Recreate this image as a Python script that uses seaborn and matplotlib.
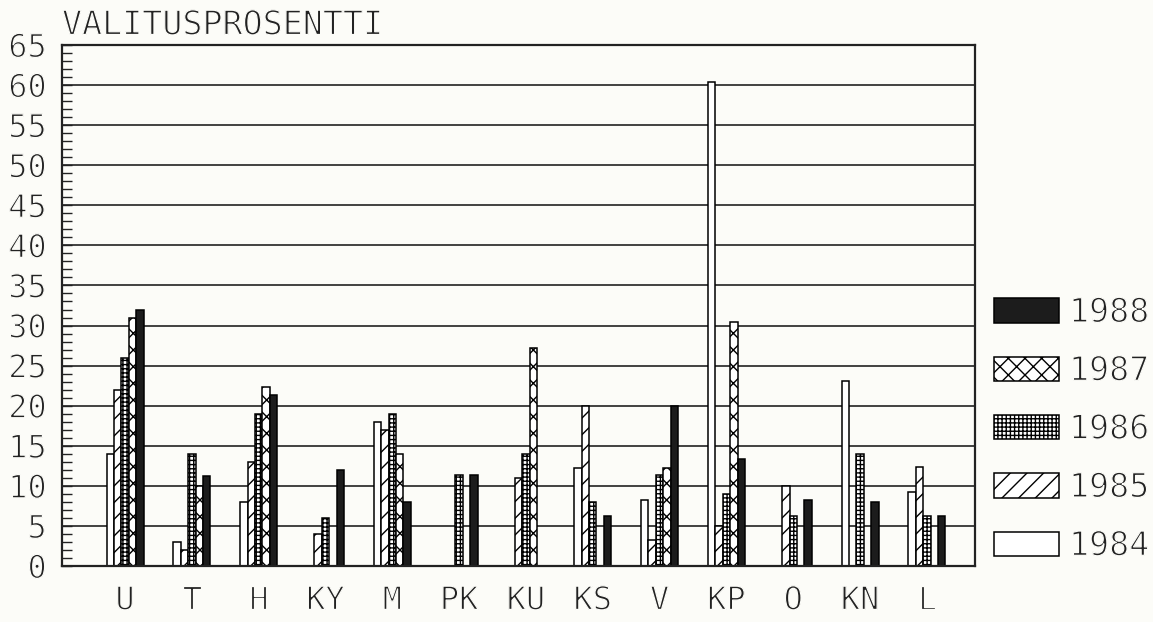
import numpy as np
import pandas as pd
import seaborn as sns
import matplotlib
matplotlib.use("Agg")
import matplotlib.pyplot as plt
import matplotlib.patheffects as pe
from matplotlib.patches import Patch
from matplotlib.ticker import MultipleLocator

nan = np.nan

# Complaint percentage by district and year
districts = ["U", "T", "H", "KY", "M", "PK", "KU", "KS", "V", "KP", "O", "KN", "L"]
years = ["1984", "1985", "1986", "1987", "1988"]
v1984 = [14.0, 3.0, 8.0, nan, 18.0, nan, nan, 12.2, 8.2, 60.4, nan, 23.1, 9.2]
v1985 = [22.0, 2.0, 13.0, 4.0, 17.0, nan, 11.0, 20.0, 3.2, 5.0, 10.0, nan, 12.3]
v1986 = [26.0, 14.0, 19.0, 6.0, 19.0, 11.3, 14.0, 8.0, 11.3, 9.0, 6.2, 14.0, 6.2]
v1987 = [31.0, 10.0, 22.3, nan, 14.0, nan, 27.2, nan, 12.2, 30.5, nan, nan, nan]
v1988 = [32.0, 11.2, 21.3, 12.0, 8.0, 11.3, nan, 6.3, 20.0, 13.3, 8.2, 8.0, 6.2]

series = dict(zip(years, [v1984, v1985, v1986, v1987, v1988]))
df = pd.DataFrame(
    [(d, y, v) for y, vals in series.items() for d, v in zip(districts, vals)],
    columns=["district", "year", "value"],
).dropna()

sns.set_style("white")
plt.rcParams["font.family"] = ["DejaVu Sans Mono", "DejaVu Sans"]
plt.rcParams["hatch.linewidth"] = 1.0
ink = "#222222"
paper = "#fcfcf8"
# thin plotter-pen look for the lettering: erode glyph outlines with paper colour
thin = [pe.Normal(), pe.Stroke(linewidth=0.9, foreground=paper)]

faces = {"1984": "white", "1985": "white", "1986": "white", "1987": "white", "1988": "#1c1c1c"}
hatches = {"1984": "", "1985": "//", "1986": "++++", "1987": "xx", "1988": ""}

fig = plt.figure(figsize=(11.53, 6.22), dpi=100, facecolor=paper)
ax = fig.add_axes([62 / 1153, 56 / 622, (975 - 62) / 1153, (566 - 45) / 622])
ax.set_facecolor(paper)

sns.barplot(
    data=df, x="district", y="value", hue="year",
    order=districts, hue_order=years, palette=faces,
    width=0.554, gap=0, saturation=1, errorbar=None,
    edgecolor="black", linewidth=1.1, legend=False, ax=ax,
)

for container, year in zip(ax.containers, years):
    for bar in container:
        bar.set_hatch(hatches[year])
        bar.set_edgecolor("black")

ax.set_xlim(-0.943, 12.72)
ax.set_ylim(0, 65)
ax.set_yticks(range(0, 66, 5))
ax.yaxis.set_minor_locator(MultipleLocator(1))
ax.tick_params(axis="y", which="both", direction="in", length=7, width=1.0,
               color=ink, labelsize=23, labelcolor=ink, pad=11, left=True)
ax.tick_params(axis="x", length=0, pad=14, labelsize=23, labelcolor=ink)
ax.set_xlabel("")
ax.set_ylabel("")

ax.grid(axis="y", color=ink, linewidth=1.2)
ax.grid(axis="x", visible=False)
ax.set_axisbelow(True)
for sp in ax.spines.values():
    sp.set_visible(True)
    sp.set_color(ink)
    sp.set_linewidth(1.6)

for lab in ax.get_xticklabels() + ax.get_yticklabels():
    lab.set_path_effects(thin)

fig.text(62 / 1153, 1 - 25 / 622, "VALITUSPROSENTTI", ha="left", va="center",
         fontsize=24, color=ink, path_effects=thin)

handles = [Patch(facecolor=faces[y], edgecolor="black", hatch=hatches[y], linewidth=1.1)
           for y in reversed(years)]
leg = fig.legend(handles, list(reversed(years)), loc="upper left",
                 bbox_to_anchor=(994 / 1153, 1 - 296 / 622), frameon=False,
                 fontsize=24, labelcolor=ink, handlelength=1.95, handleheight=0.75,
                 handletextpad=0.3, labelspacing=0.76, borderpad=0, borderaxespad=0)
for t in leg.get_texts():
    t.set_path_effects(thin)

fig.savefig("out.png", dpi=100, facecolor=paper)
